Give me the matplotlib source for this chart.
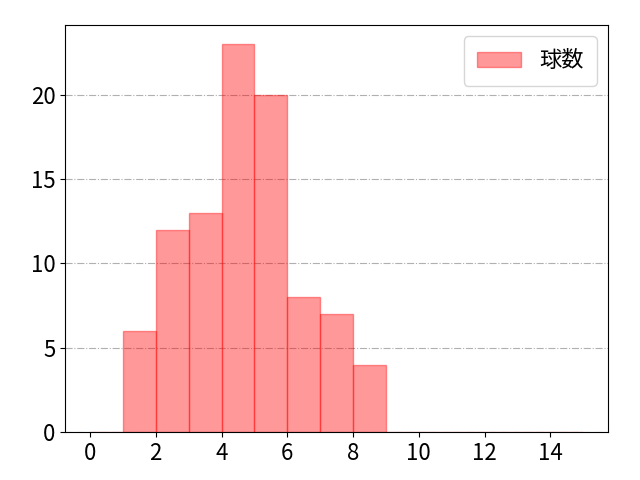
import numpy as np
import matplotlib
matplotlib.use("Agg")
import matplotlib.pyplot as plt

plt.rcParams['font.family'] = ['Noto Sans CJK JP', 'DejaVu Sans']

# pitch count per bin (bin left edges 0..14)
bin_left = np.arange(0, 15)
counts = [0, 6, 12, 13, 23, 20, 8, 7, 4, 0, 0, 0, 0, 0, 0]
edges = np.arange(0, 16)

fig, ax = plt.subplots(figsize=(6.4, 4.8), dpi=100)
ax.hist(bin_left, bins=edges, weights=counts, color="red", alpha=0.4,
        edgecolor="red", label="球数")
ax.grid(axis="y", linestyle="-.", color="#b0b0b0", linewidth=0.8)
ax.set_axisbelow(True)
ax.set_xticks(np.arange(0, 16, 2))
ax.tick_params(labelsize=16)
ax.legend(fontsize=16, loc="upper right", borderpad=0.6)
fig.subplots_adjust(left=0.102, right=0.95, top=0.948, bottom=0.1)
fig.savefig("out.png")
